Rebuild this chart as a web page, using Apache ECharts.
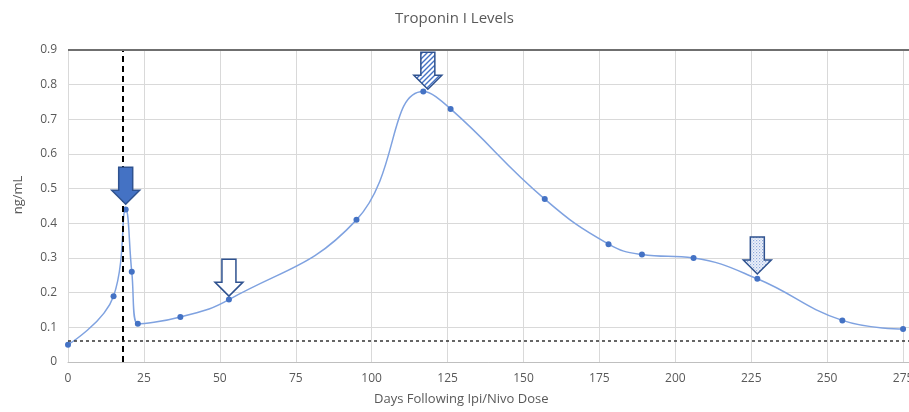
<!DOCTYPE html>
<html>
<head>
<meta charset="utf-8">
<script src="https://cdn.jsdelivr.net/npm/echarts@6/dist/echarts.min.js"></script>
<style>html,body{margin:0;padding:0;background:#fff;}#c{width:909px;height:412px;}</style>
</head>
<body>
<div id="c"></div>
<script>
// ---- data ----
var days = [0, 15, 19, 21, 23, 37, 53, 95, 117, 126, 157, 178, 189, 206, 227, 255, 275];
var troponin = [0.05, 0.19, 0.44, 0.26, 0.11, 0.13, 0.18, 0.41, 0.78, 0.73, 0.47, 0.34, 0.31, 0.30, 0.24, 0.12, 0.095];
var refLineDay = [18];        // vertical dashed line
var refLineLevel = [0.06];    // horizontal dotted line (upper limit)
var arrowDays = [19, 53, 118.5, 227];
var arrowTips = [0.455, 0.19, 0.787, 0.254];
var arrowKinds = ['solid', 'hollow', 'hatch', 'dots'];
var titleText = 'Troponin I Levels';
var xName = 'Days Following Ipi/Nivo Dose';
var yName = 'ng/mL';

function makePattern(kind) {
  var c = document.createElement('canvas');
  var ctx = c.getContext('2d');
  if (kind === 'hatch') {
    c.width = 5; c.height = 5;
    ctx.fillStyle = '#ffffff'; ctx.fillRect(0, 0, 5, 5);
    ctx.strokeStyle = '#4472C4'; ctx.lineWidth = 1.4;
    ctx.beginPath();
    ctx.moveTo(0, 5); ctx.lineTo(5, 0);
    ctx.moveTo(-1, 1); ctx.lineTo(1, -1);
    ctx.moveTo(4, 6); ctx.lineTo(6, 4);
    ctx.stroke();
  } else {
    c.width = 3; c.height = 3;
    ctx.fillStyle = '#eef2fa'; ctx.fillRect(0, 0, 3, 3);
    ctx.fillStyle = '#8ea9db'; ctx.fillRect(0, 0, 1.2, 1.2);
    ctx.fillStyle = '#b4c7e7'; ctx.fillRect(1.5, 1.5, 1.2, 1.2);
  }
  return { image: c, repeat: 'repeat' };
}

var arrowFill = {
  solid: '#4472C4',
  hollow: '#ffffff',
  hatch: makePattern('hatch'),
  dots: makePattern('dots')
};

var data = days.map(function (d, i) { return [d, troponin[i]]; });
var arrowData = arrowDays.map(function (d, i) { return [d, arrowTips[i], i]; });

var chart = echarts.init(document.getElementById('c'));
chart.setOption({
  animation: false,
  backgroundColor: '#ffffff',
  title: {
    text: titleText, left: 'center', top: 6,
    textStyle: { fontFamily: 'Open Sans', fontSize: 15, fontWeight: 'normal', color: '#595959' }
  },
  grid: { left: 68, right: -70, top: 50, bottom: 50, outerBoundsMode: 'none', containLabel: false },
  xAxis: {
    type: 'value', min: 0, max: 300, interval: 25,
    axisLine: { show: true, lineStyle: { color: '#bfbfbf' } },
    axisTick: { show: false },
    axisLabel: { color: '#595959', fontFamily: 'Open Sans', fontSize: 12, margin: 11 },
    splitLine: { show: true, lineStyle: { color: '#d9d9d9' } }
  },
  yAxis: {
    type: 'value', min: 0, max: 0.9, interval: 0.1,
    axisLine: { show: false },
    axisTick: { show: false },
    axisLabel: { color: '#595959', fontFamily: 'Open Sans', fontSize: 12, margin: 11,
      formatter: function (v) { return +v.toFixed(1) + ''; } },
    splitLine: { show: true, lineStyle: { color: '#d9d9d9' } }
  },
  graphic: [{
    type: 'text', left: 374, top: 393,
    style: { text: xName, fill: '#595959', font: '13px "Open Sans"' }
  }, {
    type: 'text', x: 18, y: 195, rotation: Math.PI / 2,
    style: { text: yName, fill: '#595959', font: '13px "Open Sans"', align: 'center', verticalAlign: 'middle' }
  }],
  series: [{
    type: 'line',
    data: data,
    smooth: 0.45,
    symbol: 'circle', symbolSize: 6,
    lineStyle: { color: '#7FA2E0', width: 1.5 },
    itemStyle: { color: '#4472C4' },
    z: 3,
    markLine: {
      silent: true, symbol: 'none', label: { show: false },
      data: [
        { xAxis: refLineDay[0], lineStyle: { color: '#000000', type: [6, 4], width: 2 } },
        { yAxis: refLineLevel[0], lineStyle: { color: '#333333', type: [3, 3], width: 1.5 } },
        { yAxis: 0.9, lineStyle: { color: '#6f6f6f', type: 'solid', width: 2 } }
      ]
    }
  }, {
    type: 'custom',
    silent: true,
    z: 5,
    data: arrowData,
    renderItem: function (params, api) {
      var p = api.coord([api.value(0), api.value(1)]);
      var kind = arrowKinds[api.value(2)];
      var tx = p[0], ty = p[1];
      var pts = [
        [tx - 7, ty - 37], [tx + 7, ty - 37], [tx + 7, ty - 14], [tx + 14, ty - 14],
        [tx, ty], [tx - 14, ty - 14], [tx - 7, ty - 14]
      ];
      return {
        type: 'polygon',
        shape: { points: pts },
        style: { fill: arrowFill[kind], stroke: '#2F528F', lineWidth: 1.5 }
      };
    }
  }]
});
</script>
</body>
</html>
